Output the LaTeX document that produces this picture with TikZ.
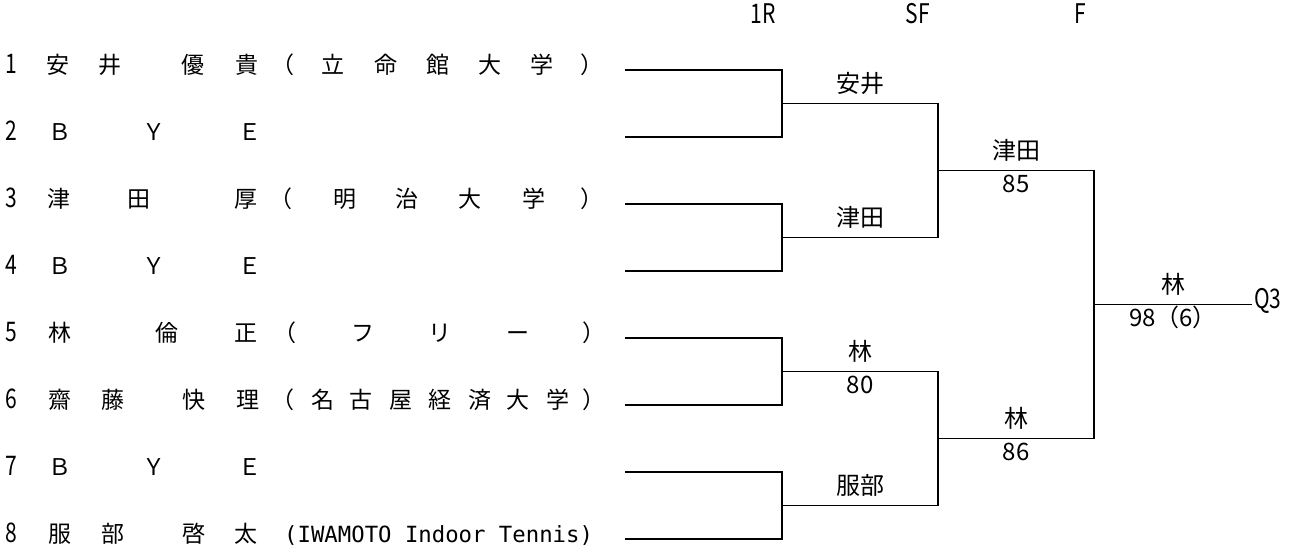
\documentclass[tikz,border=0pt]{standalone}
\usepackage{fontspec}
\setmainfont{Noto Sans CJK JP}
\newfontfamily\narrowfont{Noto Sans CJK JP}[FakeStretch=0.78]
\newfontfamily\latinmono{DejaVu Sans Mono}
\usepackage{tikz}
\usetikzlibrary{calc}
\tikzset{glyph/.style={inner sep=0pt,text height=0.88em,text depth=0.12em,font=\fontsize{23}{27}\selectfont}}
\tikzset{seed/.style={inner sep=0pt,text height=0.88em,text depth=0.12em,font=\narrowfont\fontsize{27}{30}\selectfont}}
\tikzset{roundhead/.style={seed}}
\tikzset{winner/.style={inner sep=0pt,text height=0.88em,text depth=0.12em,font=\fontsize{24}{28}\selectfont}}
\tikzset{score/.style={winner}}
\tikzset{bracket/.style={line width=1.4pt,black}}

% one row of the draw: number, then each character at its own x
\newcommand{\entrant}[3]{%
  \node[seed] (n#1) at (11,#2) {#1};
  \foreach \gx/\gc [count=\k] in {#3}
    \node[glyph] (c#1-\k) at (\gx,#2) {\gc};
}

\begin{document}
\begin{tikzpicture}[x=1pt,y=-1pt]
\useasboundingbox (0,0) rectangle (1290,556);

% round headers
\node[roundhead] (h1) at (763,20) {1R};
\node[roundhead] (h2) at (918,20) {SF};
\node[roundhead] (h3) at (1080,20) {F};

% entrants
\entrant{1}{70}{58/安,110/井,193/優,247/貴,283/（,333/立,386/命,438/館,490/大,542/学,592/）}
\entrant{2}{137}{60/Ｂ,154/Ｙ,250/Ｅ}
\entrant{3}{204}{59/津,139/田,246/厚,281/（,345/明,407/治,470/大,534/学,592/）}
\entrant{4}{271}{60/Ｂ,154/Ｙ,250/Ｅ}
\entrant{5}{338}{60/林,167/倫,246/正,285/（,363/フ,440/リ,518/ー,594/）}
\entrant{6}{405}{60/齋,113/藤,194/快,248/理,283/（,323/名,361/古,401/屋,440/経,480/済,518/大,558/学,594/）}
\entrant{7}{472}{60/Ｂ,154/Ｙ,250/Ｅ}
\entrant{8}{539}{60/服,113/部,194/啓,246/太}
\node[glyph,anchor=west,font=\latinmono\fontsize{22.3}{26}\selectfont] (club8) at (284,539) {(IWAMOTO Indoor Tennis)};

% bracket points
\foreach \i in {1,...,8} {
  \pgfmathsetmacro{\y}{70+67*(\i-1)}
  \coordinate (s\i) at (625,\y);
}
\foreach \m in {1,...,4} {
  \pgfmathsetmacro{\y}{103.5+134*(\m-1)}
  \coordinate (j\m) at (782,\y);
}
\coordinate (k1) at (938,170.5);
\coordinate (k2) at (938,438.5);
\coordinate (f) at (1094,304.5);
\coordinate (fin) at (1252,304.5);

\foreach \m in {1,...,4} {
  \pgfmathtruncatemacro{\a}{2*\m-1}
  \pgfmathtruncatemacro{\b}{2*\m}
  \draw[bracket] (s\a) -| (j\m) |- (s\b);
}
\draw[bracket] (j1) -| (k1) |- (j2);
\draw[bracket] (j3) -| (k2) |- (j4);
\draw[bracket] (k1) -| (f) |- (k2);
\draw[bracket] (f) -- (fin);

% winners and scores
\node[winner] (w1) at (860,88.5) {安井};
\node[winner] (w2) at (860,222.5) {津田};
\node[winner] (w3) at (860,356.5) {林};
\node[score] (p3) at (860,389.5) {80};
\node[winner] (w4) at (860,490.5) {服部};
\node[winner] (w5) at (1016,155.5) {津田};
\node[score] (p5) at (1016,188.5) {85};
\node[winner] (w6) at (1016,423.5) {林};
\node[score] (p6) at (1016,456.5) {86};
\node[winner] (w7) at (1173,289.5) {林};
\node[score] (p7) at (1173,322.5) {98（6）};
\node[seed,anchor=west,inner sep=2pt] (q3) at (fin) {Q3};
\end{tikzpicture}
\end{document}
